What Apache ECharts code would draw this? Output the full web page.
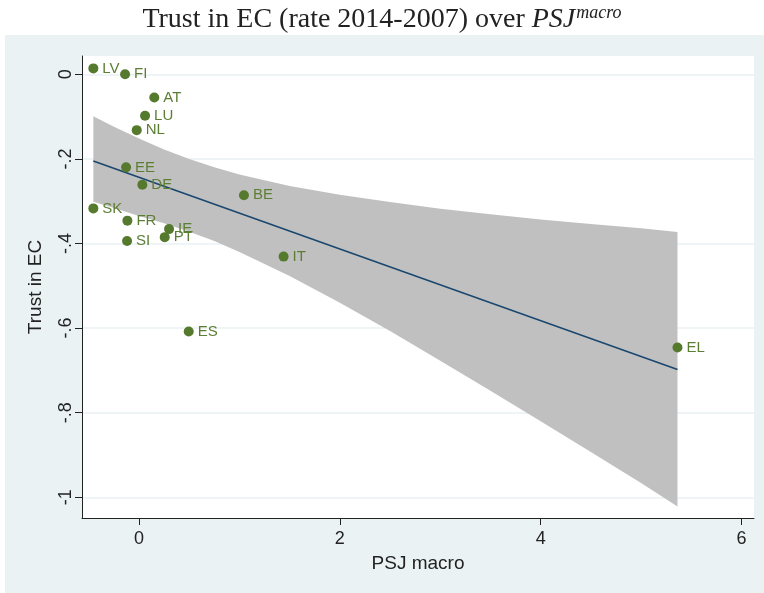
<!DOCTYPE html>
<html>
<head>
<meta charset="utf-8">
<script src="https://cdn.jsdelivr.net/npm/echarts@6/dist/echarts.min.js"></script>
<style>
  html, body { margin: 0; padding: 0; background: #fff; }
  #chart { width: 764px; height: 593px; }
</style>
</head>
<body>
<div id="chart"></div>
<script>
// countries and their values
const countries = ['LV', 'FI', 'AT', 'LU', 'NL', 'EE', 'DE', 'BE', 'SK', 'FR', 'IE', 'PT', 'SI', 'IT', 'ES', 'EL'];
const psjMacro = [-0.455, -0.139, 0.152, 0.060, -0.023, -0.129, 0.033, 1.045, -0.455, -0.116, 0.299, 0.256, -0.119, 1.440, 0.495, 5.363];
const trustEC = [0.014, 0.000, -0.055, -0.098, -0.132, -0.220, -0.261, -0.286, -0.317, -0.346, -0.366, -0.385, -0.394, -0.431, -0.608, -0.646];

// fitted line (ends)
const fitX = [-0.455, 5.363];
const fitY = [-0.205, -0.698];

// confidence band edges
const bandX = [-0.455, -0.25, 0, 0.25, 0.5, 0.75, 1, 1.5, 2, 2.5, 3, 3.5, 4, 4.5, 5, 5.363];
const bandUpper = [-0.099, -0.124, -0.152, -0.178, -0.200, -0.220, -0.237, -0.264, -0.285, -0.302, -0.318, -0.331, -0.343, -0.354, -0.364, -0.373];
const bandLower = [-0.301, -0.316, -0.335, -0.352, -0.372, -0.394, -0.420, -0.477, -0.540, -0.607, -0.677, -0.748, -0.820, -0.893, -0.966, -1.022];

// tick labels
const xTicks = [0, 2, 4, 6];
const yTicks = [0, -0.2, -0.4, -0.6, -0.8, -1];
const yTickLabels = ['0', '-.2', '-.4', '-.6', '-.8', '-1'];

const sans = 'Liberation Sans';
const serif = 'Liberation Serif';
const green = '#557a2e';

const chart = echarts.init(document.getElementById('chart'));

const option = {
  backgroundColor: '#fff',
  animation: false,
  graphic: [{
    type: 'rect',
    z: -10,
    shape: { x: 5, y: 35, width: 759, height: 558 },
    style: { fill: '#eaf2f3' }
  }],
  title: {
    left: 'center',
    top: -2,
    text: '{a|Trust in EC (rate 2014-2007) over }{b|PSJ}{c|macro}',
    textStyle: {
      fontWeight: 'normal',
      rich: {
        a: { fontFamily: serif, fontWeight: 'normal', fontSize: 28, color: '#222', lineHeight: 34 },
        b: { fontFamily: serif, fontWeight: 'normal', fontStyle: 'italic', fontSize: 28, color: '#222', lineHeight: 34 },
        c: { fontFamily: serif, fontWeight: 'normal', fontStyle: 'italic', fontSize: 18, color: '#222', lineHeight: 34, padding: [0, 0, 14, 1] }
      }
    }
  },
  grid: {
    left: 82, top: 56, width: 672, height: 462,
    show: true, backgroundColor: '#fff', borderWidth: 0
  },
  xAxis: {
    type: 'value',
    min: -0.568, max: 6.125,
    name: 'PSJ macro',
    nameLocation: 'middle',
    nameGap: 36,
    nameTextStyle: { fontFamily: sans, fontSize: 19, color: '#222' },
    axisLine: { show: true, onZero: false, lineStyle: { color: '#222', width: 1 } },
    axisTick: { show: true, customValues: xTicks, length: 7, lineStyle: { color: '#222' } },
    axisLabel: { customValues: xTicks, fontFamily: sans, fontSize: 18, color: '#222', margin: 12, formatter: v => String(v) },
    splitLine: { show: false }
  },
  yAxis: {
    type: 'value',
    min: -1.049, max: 0.0433,
    name: 'Trust in EC',
    nameLocation: 'middle',
    nameGap: 37,
    nameTextStyle: { fontFamily: sans, fontSize: 19, color: '#222' },
    axisLine: { show: true, onZero: false, lineStyle: { color: '#222', width: 1 } },
    axisTick: { show: true, customValues: yTicks, length: 7, lineStyle: { color: '#222' } },
    axisLabel: {
      customValues: yTicks, rotate: 90, fontFamily: sans, fontSize: 18, color: '#222', margin: 7,
      formatter: v => yTickLabels[yTicks.findIndex(t => Math.abs(t - v) < 1e-6)]
    },
    splitLine: { show: true, customValues: yTicks, lineStyle: { color: '#eaf2f3', width: 1.5 } }
  },
  series: [
    {
      type: 'custom',
      silent: true,
      z: 1,
      data: [[0, 0]],
      renderItem: (params, api) => {
        const pts = [];
        bandX.forEach((x, i) => pts.push(api.coord([x, bandUpper[i]])));
        for (let i = bandX.length - 1; i >= 0; i--) pts.push(api.coord([bandX[i], bandLower[i]]));
        return { type: 'polygon', shape: { points: pts, smooth: 0 }, style: { fill: '#c0c0c0' } };
      }
    },
    {
      type: 'line',
      z: 2,
      symbol: 'none',
      data: fitX.map((x, i) => [x, fitY[i]]),
      lineStyle: { color: '#1a476f', width: 1.6 }
    },
    {
      type: 'scatter',
      z: 3,
      symbol: 'circle',
      symbolSize: 10,
      itemStyle: { color: green, opacity: 1 },
      label: {
        show: true, position: 'right', distance: 4,
        formatter: p => p.name,
        fontFamily: sans, fontSize: 15, color: '#5c7e34'
      },
      data: countries.map((c, i) => ({ name: c, value: [psjMacro[i], trustEC[i]] }))
    }
  ]
};

chart.setOption(option);
</script>
</body>
</html>
